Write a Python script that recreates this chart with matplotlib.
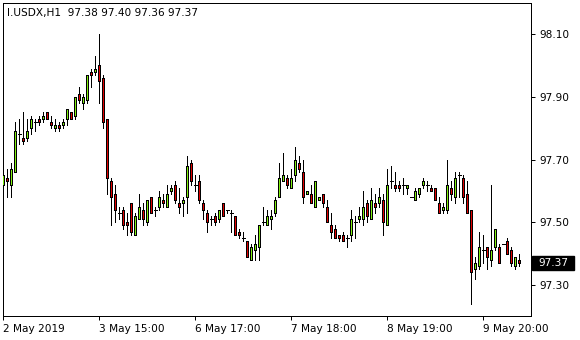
import matplotlib
matplotlib.use("Agg")
import matplotlib.pyplot as plt
from matplotlib.patches import Rectangle
import matplotlib.transforms as mtransforms

symbol = "I.USDX,H1"

opens = [97.62, 97.64, 97.62, 97.66, 97.78, 97.77, 97.77, 97.80, 97.82, 97.83,
         97.83, 97.85, 97.82, 97.80, 97.81, 97.81, 97.83, 97.85, 97.84, 97.91,
         97.88, 97.89, 97.98, 97.98, 98.00, 97.96, 97.83, 97.63, 97.59, 97.53,
         97.54, 97.50, 97.56, 97.46, 97.51, 97.54, 97.50, 97.58, 97.54, 97.55,
         97.57, 97.55, 97.60, 97.62, 97.56, 97.56, 97.58, 97.69, 97.62, 97.63,
         97.56, 97.53, 97.51, 97.52, 97.51, 97.56, 97.54, 97.53, 97.52, 97.47,
         97.45, 97.44, 97.38, 97.41, 97.42, 97.50, 97.49, 97.51, 97.53, 97.58,
         97.63, 97.64, 97.61, 97.65, 97.69, 97.66, 97.59, 97.59, 97.55, 97.57,
         97.59, 97.55, 97.49, 97.48, 97.46, 97.46, 97.45, 97.46, 97.50, 97.51,
         97.51, 97.56, 97.51, 97.56, 97.56, 97.57, 97.49, 97.63, 97.62, 97.62,
         97.62, 97.61, 97.58, 97.57, 97.59, 97.62, 97.62, 97.61, 97.61, 97.56,
         97.54, 97.54, 97.61, 97.58, 97.65, 97.64, 97.59, 97.54, 97.35, 97.36,
         97.41, 97.42, 97.38, 97.42, 97.42, 97.43, 97.44, 97.41, 97.36, 97.38]
highs = [97.67, 97.67, 97.69, 97.82, 97.83, 97.85, 97.83, 97.84, 97.83, 97.84,
         97.85, 97.85, 97.84, 97.83, 97.82, 97.83, 97.86, 97.85, 97.90, 97.93,
         97.91, 97.97, 97.99, 98.03, 98.10, 97.97, 97.83, 97.64, 97.62, 97.55,
         97.55, 97.53, 97.56, 97.53, 97.59, 97.56, 97.57, 97.58, 97.55, 97.60,
         97.59, 97.62, 97.62, 97.63, 97.61, 97.58, 97.71, 97.70, 97.65, 97.65,
         97.57, 97.54, 97.52, 97.53, 97.54, 97.56, 97.54, 97.54, 97.52, 97.48,
         97.47, 97.44, 97.43, 97.46, 97.49, 97.55, 97.54, 97.54, 97.58, 97.69,
         97.72, 97.65, 97.67, 97.74, 97.71, 97.70, 97.60, 97.62, 97.63, 97.58,
         97.59, 97.57, 97.53, 97.49, 97.46, 97.47, 97.46, 97.54, 97.52, 97.55,
         97.60, 97.57, 97.61, 97.59, 97.61, 97.59, 97.67, 97.68, 97.66, 97.63,
         97.64, 97.62, 97.58, 97.61, 97.61, 97.64, 97.63, 97.62, 97.61, 97.58,
         97.56, 97.70, 97.63, 97.66, 97.66, 97.65, 97.63, 97.54, 97.39, 97.47,
         97.46, 97.42, 97.62, 97.48, 97.43, 97.43, 97.45, 97.42, 97.39, 97.40]
lows = [97.59, 97.58, 97.58, 97.66, 97.75, 97.75, 97.76, 97.78, 97.79, 97.81,
        97.82, 97.83, 97.80, 97.79, 97.79, 97.80, 97.81, 97.83, 97.83, 97.88,
        97.86, 97.88, 97.93, 97.97, 97.88, 97.80, 97.59, 97.49, 97.50, 97.51,
        97.48, 97.46, 97.46, 97.46, 97.51, 97.49, 97.49, 97.53, 97.52, 97.54,
        97.55, 97.55, 97.59, 97.56, 97.53, 97.52, 97.53, 97.62, 97.60, 97.56,
        97.51, 97.47, 97.49, 97.49, 97.50, 97.52, 97.53, 97.47, 97.46, 97.45,
        97.44, 97.39, 97.38, 97.38, 97.38, 97.49, 97.49, 97.48, 97.52, 97.58,
        97.63, 97.61, 97.61, 97.63, 97.66, 97.56, 97.59, 97.56, 97.55, 97.57,
        97.55, 97.50, 97.45, 97.45, 97.44, 97.44, 97.42, 97.44, 97.45, 97.50,
        97.49, 97.50, 97.51, 97.53, 97.55, 97.46, 97.49, 97.61, 97.60, 97.60,
        97.59, 97.59, 97.58, 97.57, 97.58, 97.61, 97.60, 97.60, 97.57, 97.53,
        97.53, 97.53, 97.57, 97.56, 97.58, 97.56, 97.53, 97.24, 97.32, 97.35,
        97.37, 97.35, 97.36, 97.41, 97.37, 97.43, 97.40, 97.36, 97.35, 97.36]
closes = [97.65, 97.63, 97.67, 97.79, 97.78, 97.76, 97.79, 97.83, 97.82, 97.82,
          97.84, 97.83, 97.81, 97.81, 97.80, 97.82, 97.86, 97.83, 97.90, 97.89,
          97.90, 97.97, 97.97, 97.99, 97.95, 97.82, 97.64, 97.58, 97.54, 97.53,
          97.49, 97.49, 97.47, 97.52, 97.55, 97.51, 97.57, 97.53, 97.54, 97.58,
          97.56, 97.59, 97.61, 97.57, 97.55, 97.57, 97.68, 97.63, 97.62, 97.57,
          97.54, 97.50, 97.51, 97.50, 97.54, 97.52, 97.54, 97.53, 97.46, 97.46,
          97.45, 97.39, 97.42, 97.43, 97.49, 97.50, 97.52, 97.52, 97.57, 97.64,
          97.65, 97.62, 97.64, 97.70, 97.67, 97.58, 97.60, 97.56, 97.63, 97.58,
          97.56, 97.50, 97.47, 97.45, 97.45, 97.44, 97.45, 97.51, 97.50, 97.52,
          97.55, 97.52, 97.57, 97.55, 97.58, 97.50, 97.62, 97.63, 97.61, 97.61,
          97.62, 97.62, 97.58, 97.60, 97.61, 97.63, 97.62, 97.60, 97.57, 97.53,
          97.55, 97.62, 97.59, 97.64, 97.65, 97.58, 97.53, 97.34, 97.37, 97.42,
          97.41, 97.39, 97.41, 97.48, 97.37, 97.43, 97.40, 97.37, 97.39, 97.37]

x_tick_bars = [0, 24, 48, 72, 96, 120]
x_tick_labels = ["2 May 2019", "3 May 15:00", "6 May 17:00",
                 "7 May 18:00", "8 May 19:00", "9 May 20:00"]
y_ticks = [97.30, 97.50, 97.70, 97.90, 98.10]

W, H = 580, 340
fig = plt.figure(figsize=(W / 100, H / 100), dpi=100)
fig.patch.set_facecolor("white")
left_px, right_px, top_px, bottom_px = 2.5, 531.0, 2.5, 315.5
ax = fig.add_axes([left_px / W, 1 - bottom_px / H,
                   (right_px - left_px) / W, (bottom_px - top_px) / H])
ax.set_facecolor("white")

FS = 7.6
up_col = "#7FEF10"
dn_col = "#E00000"
lw = 0.72

for i, (o, h, l, c) in enumerate(zip(opens, highs, lows, closes)):
    ax.vlines(i, l, h, colors="black", linewidth=lw, antialiased=False)
    if abs(c - o) < 1e-9:
        ax.hlines(o, i - 0.4, i + 0.4, colors="black", linewidth=lw, antialiased=False)
    else:
        col = up_col if c > o else dn_col
        ax.add_patch(Rectangle((i - 0.25, min(o, c)), 0.5, abs(c - o),
                               facecolor=col, edgecolor="black", linewidth=lw,
                               antialiased=False, zorder=3))

ax.set_xlim(-0.2, 131.9)
ax.set_ylim(97.2028, 98.2004)

for sp in ax.spines.values():
    sp.set_linewidth(lw)
    sp.set_color("black")

ax.yaxis.tick_right()
ax.set_yticks(y_ticks)
ax.set_yticklabels([f"{v:.2f}" for v in y_ticks])
ax.tick_params(axis="y", direction="out", length=2.8, width=lw, pad=3,
               labelsize=FS, colors="black", left=False, right=True)
ax.set_xticks(x_tick_bars)
ax.set_xticklabels(x_tick_labels, ha="left")
ax.tick_params(axis="x", direction="out", length=2.8, width=lw, pad=3.5,
               labelsize=FS, colors="black")

# current price label
last = closes[-1]
blend = mtransforms.blended_transform_factory(fig.transFigure, ax.transData)
box_h = 14 / 313.75
ax.add_patch(Rectangle((532 / W, last - box_h / 2), 42 / W, box_h,
                       transform=blend, facecolor="black", edgecolor="black",
                       clip_on=False, zorder=5))
ax.text(538 / W, last, f"{last:.2f}", transform=blend, color="white",
        ha="left", va="center", fontsize=FS, zorder=6, clip_on=False)

# title
title = f"{symbol}  {opens[-1]:.2f} {highs[-1]:.2f} {lows[-1]:.2f} {closes[-1]:.2f}"
fig.text(7 / W, 1 - 13 / H, title, ha="left", va="center", fontsize=FS, color="black")

fig.savefig("out.png", dpi=100, facecolor="white")
